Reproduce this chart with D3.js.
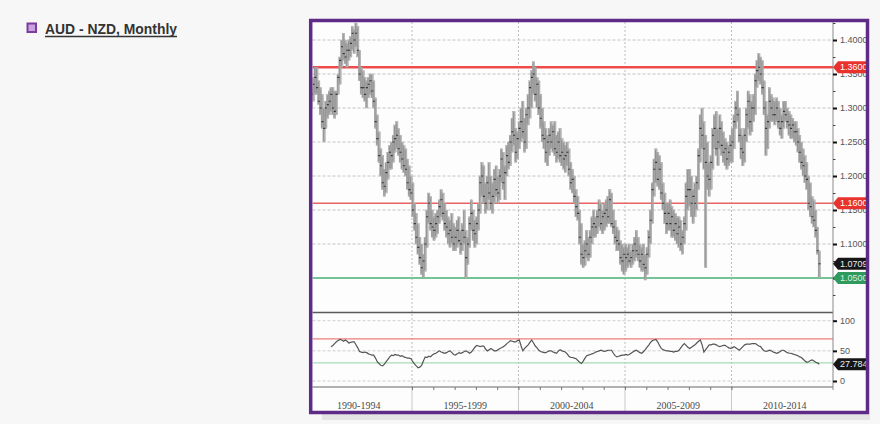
<!DOCTYPE html>
<html><head><meta charset="utf-8">
<script src="https://cdn.jsdelivr.net/npm/d3@7/dist/d3.min.js"></script>
<style>body{margin:0;background:#f7f7f7;}svg{display:block}</style>
</head><body><svg id="c" width="880" height="424"></svg>
<script>
// ---------------- DATA ----------------
const title = "AUD - NZD, Monthly";
const startYear = 1990, startMonth = 3; // first bar: April 1990
const high = [
 1.33,1.345,1.36,1.36,1.34,1.33,1.32,1.30,1.31,
 1.32,1.325,1.33,1.33,1.325,1.325,1.35,1.375,1.40,1.41,1.40,1.395,
 1.40,1.405,1.42,1.415,1.425,1.42,1.385,1.36,1.355,1.345,1.34,1.345,
 1.35,1.35,1.34,1.315,1.29,1.265,1.24,1.23,1.21,1.22,1.235,1.245,
 1.25,1.26,1.275,1.28,1.27,1.26,1.25,1.245,1.24,1.225,1.215,1.20,
 1.19,1.16,1.145,1.13,1.11,1.10,1.085,1.11,1.15,1.175,1.17,1.15,
 1.14,1.145,1.15,1.165,1.18,1.175,1.16,1.15,1.14,1.135,1.145,1.13,
 1.125,1.135,1.14,1.12,1.13,1.15,1.12,1.11,1.14,1.165,1.15,1.135,
 1.14,1.16,1.20,1.22,1.215,1.19,1.20,1.22,1.20,1.19,1.21,1.215,
 1.20,1.21,1.24,1.235,1.215,1.245,1.25,1.26,1.285,1.295,1.27,1.265,
 1.28,1.30,1.31,1.285,1.30,1.32,1.34,1.355,1.368,1.36,1.345,1.34,
 1.32,1.30,1.28,1.27,1.26,1.27,1.28,1.275,1.28,1.26,1.265,1.27,
 1.255,1.25,1.245,1.25,1.24,1.22,1.21,1.20,1.18,1.17,1.15,1.13,
 1.10,1.105,1.12,1.11,1.12,1.14,1.15,1.14,1.15,1.165,1.16,1.15,
 1.16,1.165,1.17,1.18,1.175,1.15,1.135,1.125,1.12,1.105,1.10,1.095,
 1.10,1.095,1.10,1.09,1.10,1.11,1.12,1.11,1.10,1.095,1.10,1.085,
 1.095,1.12,1.15,1.19,1.225,1.24,1.235,1.23,1.22,1.19,1.175,1.16,
 1.16,1.165,1.155,1.15,1.145,1.14,1.14,1.135,1.12,1.14,1.19,1.21,
 1.21,1.20,1.18,1.19,1.20,1.24,1.29,1.30,1.28,1.26,1.25,1.22,
 1.23,1.27,1.29,1.295,1.27,1.29,1.28,1.265,1.255,1.25,1.245,1.26,
 1.27,1.29,1.31,1.325,1.30,1.27,1.26,1.27,1.30,1.325,1.32,1.31,
 1.32,1.35,1.37,1.38,1.375,1.37,1.34,1.31,1.29,1.33,1.32,1.315,
 1.31,1.315,1.31,1.30,1.29,1.31,1.31,1.30,1.295,1.29,1.285,1.28,
 1.28,1.27,1.26,1.25,1.24,1.23,1.22,1.20,1.19,1.17,1.165,1.15,
 1.125,1.09
];
const low = [
 1.30,1.31,1.32,1.32,1.305,1.29,1.27,1.25,1.27,
 1.285,1.29,1.295,1.29,1.285,1.29,1.32,1.335,1.36,1.37,1.365,1.36,
 1.37,1.375,1.385,1.38,1.39,1.375,1.34,1.32,1.315,1.31,1.30,1.315,
 1.32,1.315,1.30,1.27,1.245,1.22,1.20,1.18,1.17,1.175,1.195,1.21,
 1.21,1.22,1.235,1.24,1.23,1.22,1.21,1.205,1.20,1.18,1.17,1.165,
 1.14,1.12,1.10,1.085,1.07,1.055,1.05,1.06,1.095,1.13,1.12,1.11,
 1.105,1.11,1.115,1.13,1.14,1.135,1.12,1.11,1.10,1.095,1.10,1.09,
 1.09,1.095,1.10,1.085,1.09,1.10,1.05,1.07,1.095,1.12,1.105,1.095,
 1.10,1.12,1.145,1.17,1.16,1.145,1.15,1.165,1.15,1.145,1.16,1.17,
 1.16,1.165,1.19,1.18,1.165,1.20,1.21,1.215,1.235,1.245,1.22,1.225,
 1.24,1.25,1.255,1.235,1.24,1.275,1.285,1.30,1.32,1.31,1.30,1.29,
 1.27,1.25,1.24,1.22,1.215,1.23,1.24,1.235,1.23,1.22,1.225,1.22,
 1.215,1.21,1.205,1.215,1.20,1.18,1.175,1.16,1.14,1.135,1.10,1.07,
 1.065,1.068,1.08,1.075,1.08,1.10,1.11,1.11,1.115,1.125,1.12,1.115,
 1.12,1.125,1.13,1.13,1.125,1.115,1.10,1.09,1.09,1.07,1.06,1.055,
 1.06,1.065,1.07,1.065,1.07,1.075,1.08,1.075,1.065,1.06,1.06,1.047,
 1.055,1.08,1.10,1.13,1.17,1.19,1.185,1.18,1.165,1.15,1.13,1.115,
 1.12,1.12,1.11,1.11,1.105,1.10,1.095,1.09,1.085,1.10,1.12,1.15,
 1.155,1.14,1.13,1.14,1.15,1.18,1.22,1.24,1.21,1.065,1.18,1.17,
 1.18,1.21,1.24,1.23,1.215,1.24,1.23,1.22,1.215,1.21,1.215,1.22,
 1.22,1.24,1.27,1.28,1.25,1.225,1.215,1.22,1.25,1.27,1.26,1.265,
 1.28,1.29,1.33,1.34,1.335,1.32,1.29,1.23,1.24,1.27,1.28,1.28,
 1.275,1.28,1.27,1.26,1.255,1.27,1.28,1.27,1.26,1.255,1.255,1.25,
 1.245,1.235,1.22,1.21,1.20,1.19,1.18,1.15,1.14,1.13,1.125,1.11,
 1.085,1.05
];
const close = [
 1.32,1.335,1.345,1.33,1.31,1.30,1.28,1.27,1.30,
 1.305,1.31,1.32,1.30,1.295,1.32,1.345,1.37,1.39,1.38,1.375,1.385,
 1.385,1.395,1.41,1.40,1.41,1.385,1.35,1.33,1.33,1.32,1.33,1.335,
 1.34,1.325,1.31,1.28,1.255,1.23,1.215,1.19,1.185,1.205,1.22,1.235,
 1.23,1.25,1.255,1.26,1.24,1.235,1.225,1.215,1.21,1.19,1.18,1.175,
 1.15,1.13,1.11,1.095,1.08,1.065,1.075,1.10,1.14,1.16,1.13,1.125,
 1.12,1.13,1.14,1.155,1.165,1.145,1.13,1.125,1.115,1.12,1.11,1.10,
 1.11,1.12,1.105,1.10,1.12,1.11,1.08,1.10,1.13,1.145,1.12,1.115,
 1.13,1.15,1.19,1.20,1.17,1.16,1.19,1.175,1.16,1.17,1.195,1.18,
 1.175,1.20,1.225,1.19,1.205,1.23,1.22,1.25,1.265,1.26,1.235,1.255,
 1.27,1.28,1.265,1.25,1.29,1.30,1.33,1.345,1.35,1.32,1.335,1.30,
 1.285,1.26,1.255,1.235,1.25,1.26,1.25,1.265,1.24,1.235,1.25,1.23,
 1.235,1.225,1.23,1.235,1.21,1.19,1.195,1.17,1.155,1.145,1.11,1.085,
 1.08,1.09,1.10,1.085,1.11,1.125,1.13,1.125,1.14,1.15,1.13,1.14,
 1.145,1.15,1.14,1.165,1.13,1.125,1.11,1.105,1.10,1.08,1.075,1.085,
 1.08,1.085,1.075,1.08,1.09,1.10,1.09,1.085,1.075,1.085,1.07,1.065,
 1.085,1.11,1.135,1.18,1.21,1.22,1.195,1.21,1.175,1.16,1.145,1.13,
 1.145,1.13,1.14,1.12,1.13,1.115,1.125,1.10,1.11,1.13,1.17,1.18,
 1.18,1.16,1.17,1.16,1.19,1.23,1.27,1.26,1.24,1.22,1.20,1.195,
 1.22,1.26,1.27,1.24,1.25,1.27,1.245,1.235,1.24,1.225,1.235,1.245,
 1.25,1.28,1.30,1.29,1.26,1.24,1.235,1.26,1.29,1.31,1.28,1.30,
 1.30,1.34,1.355,1.36,1.35,1.33,1.30,1.27,1.28,1.31,1.30,1.29,
 1.29,1.30,1.28,1.27,1.28,1.295,1.29,1.28,1.275,1.27,1.275,1.265,
 1.265,1.25,1.235,1.22,1.215,1.20,1.195,1.16,1.155,1.14,1.135,1.12,
 1.09,1.0709
];
const rsiStart = 11; // index of first RSI reading in the monthly series
const rsi = [
 57,59,62,65,67,69,68,66,68,66,63,64,
 65,65,60,55,49,48,47,48,47,45,44,43,
 43,38,32,29,26,25,28,32,36,40,43,42,
 44,43,43,41,42,40,39,38,38,37,32,28,
 25,22,23,26,33,40,39,41,40,43,45,46,
 48,50,48,47,46,47,49,50,47,44,43,45,
 47,46,47,49,50,48,46,48,52,56,59,58,
 57,58,58,53,50,52,54,52,50,50,52,54,
 55,57,59,62,64,67,66,65,65,67,68,58,
 50,54,57,60,64,68,63,58,55,51,49,48,
 47,47,49,50,50,48,47,46,50,52,50,49,
 48,45,41,39,39,38,37,34,31,29,33,38,
 42,43,44,45,46,48,49,50,51,50,49,50,
 51,51,51,46,42,40,41,42,43,43,44,43,
 44,46,48,50,51,49,47,46,49,52,56,60,
 64,67,68,69,65,59,54,52,51,50,50,49,
 49,48,49,49,51,55,59,62,59,56,54,56,
 58,60,63,66,68,60,48,52,56,60,60,61,
 61,60,58,57,58,59,59,57,55,54,55,57,
 55,53,51,54,57,60,61,61,61,62,62,62,
 60,58,57,53,50,49,50,51,50,48,47,46,
 47,49,51,51,49,47,46,46,45,44,43,42,
 40,39,36,33,31,32,34,35,33,31,30,27.784
];
const priceTicks = [1.40,1.35,1.30,1.25,1.20,1.15,1.10,1.05];
const priceMinorTicks = [1.425,1.375,1.325,1.275,1.225,1.175,1.125,1.075,1.025];
const rsiTicks = [100,50,0];
const resistance = [1.36,1.16];
const support = [1.05];
const lastPrice = 1.0709;
const rsiLevels = {overbought:70, oversold:30};
const lastRsi = 27.784;
const periodLabels = ["1990-1994","1995-1999","2000-2004","2005-2009","2010-2014"];
const periodStarts = [1990,1995,2000,2005,2010,2015];

// ---------------- LAYOUT ----------------
const svg = d3.select("#c");
const plotL = 312.5, plotR = 833, mainT = 22, mainB = 312, rsiT = 313, rsiB = 387;
const n = Math.min(high.length, low.length, close.length);
const months = d3.range(n).map(i => new Date(startYear, startMonth + i, 15));

const x = d3.scaleTime().domain([new Date(1995,0,1), new Date(2010,0,1)]).range([412, 731.5]);
const y = d3.scaleLinear().domain([1.0, 1.4]).range([312, 40]);
const yr = d3.scaleLinear().domain([0,100]).range([381, 320.7]);

svg.append("rect").attr("width",880).attr("height",424).attr("fill","#f7f7f7");
svg.append("rect").attr("x",322).attr("y",414).attr("width",548).attr("height",6).attr("fill","#e4e4e4");
svg.append("rect").attr("x",310).attr("y",20).attr("width",557).attr("height",392).attr("fill","#fdfdfd");

const defs = svg.append("defs");
defs.append("clipPath").attr("id","mainClip").append("rect")
  .attr("x",plotL).attr("y",mainT).attr("width",plotR-plotL).attr("height",mainB-mainT);
defs.append("clipPath").attr("id","rsiClip").append("rect")
  .attr("x",plotL).attr("y",rsiT).attr("width",plotR-plotL).attr("height",rsiB-rsiT);

// grid
const grid = svg.append("g");
grid.selectAll(".hg").data(priceTicks).join("line")
  .attr("x1",plotL).attr("x2",plotR).attr("y1",d=>y(d)).attr("y2",d=>y(d))
  .attr("stroke","#c4c4c4").attr("stroke-width",1).attr("stroke-dasharray","3,2");
grid.selectAll(".rg").data(rsiTicks).join("line")
  .attr("x1",plotL).attr("x2",plotR).attr("y1",d=>yr(d)).attr("y2",d=>yr(d))
  .attr("stroke","#cfcfcf").attr("stroke-width",1).attr("stroke-dasharray","3,2");
const inner = periodStarts.slice(1,-1);
grid.selectAll(".vg").data(inner).join("line")
  .attr("x1",d=>x(new Date(d,0,1))).attr("x2",d=>x(new Date(d,0,1)))
  .attr("y1",mainT).attr("y2",rsiB)
  .attr("stroke","#bdbdbd").attr("stroke-width",1).attr("stroke-dasharray","2,2");
grid.selectAll(".vs").data(inner).join("line")
  .attr("x1",d=>x(new Date(d,0,1))).attr("x2",d=>x(new Date(d,0,1)))
  .attr("y1",rsiB).attr("y2",411)
  .attr("stroke","#c8c8c8").attr("stroke-width",1);

// level lines
const lv = svg.append("g").attr("clip-path","url(#mainClip)");
lv.selectAll(".res").data(resistance).join("line")
  .attr("x1",plotL).attr("x2",plotR).attr("y1",d=>y(d)).attr("y2",d=>y(d))
  .attr("stroke",(d,i)=> i===0 ? "#ee4b4b" : "#ea6464").attr("stroke-width",(d,i)=> i===0 ? 2.4 : 1.5);
lv.selectAll(".sup").data(support).join("line")
  .attr("x1",plotL).attr("x2",plotR).attr("y1",d=>y(d)).attr("y2",d=>y(d))
  .attr("stroke","#74c495").attr("stroke-width",2.2);

// bars
const bars = svg.append("g").attr("clip-path","url(#mainClip)");
const idx = d3.range(n);
bars.selectAll(".hl").data(idx).join("rect")
  .attr("x",i=>x(months[i])-1.2).attr("width",2.4)
  .attr("y",i=>y(high[i])).attr("height",i=>Math.max(1,y(low[i])-y(high[i])))
  .attr("fill","#b9b9b9").attr("stroke","#999").attr("stroke-width",0.4);
bars.selectAll(".hc").data(idx).join("line")
  .attr("x1",i=>x(months[i])-0.4).attr("x2",i=>x(months[i])-0.4)
  .attr("y1",i=>y(high[i])+1).attr("y2",i=>y(low[i])-1)
  .attr("stroke","#7a7a7a").attr("stroke-width",0.6);
bars.selectAll(".cl").data(idx).join("line")
  .attr("x1",i=>x(months[i])-0.8).attr("x2",i=>x(months[i])+1.2)
  .attr("y1",i=>y(close[i])).attr("y2",i=>y(close[i]))
  .attr("stroke","#333").attr("stroke-width",1.1);

// rsi levels and line
const rg = svg.append("g").attr("clip-path","url(#rsiClip)");
rg.append("line").attr("x1",plotL).attr("x2",plotR)
  .attr("y1",yr(rsiLevels.overbought)).attr("y2",yr(rsiLevels.overbought))
  .attr("stroke","#f07c7c").attr("stroke-width",1.2);
rg.append("line").attr("x1",plotL).attr("x2",plotR)
  .attr("y1",yr(rsiLevels.oversold)).attr("y2",yr(rsiLevels.oversold))
  .attr("stroke","#a6dbb5").attr("stroke-width",1.2);
const line = d3.line().x((d,i)=>x(months[rsiStart+i])).y(d=>yr(d));
rg.append("path").datum(rsi).attr("d",line).attr("fill","none")
  .attr("stroke","#555").attr("stroke-width",1.2);

// panel separator and axis lines
svg.append("line").attr("x1",plotL).attr("x2",plotR).attr("y1",312.5).attr("y2",312.5)
  .attr("stroke","#5a5a5a").attr("stroke-width",1.5);
svg.append("line").attr("x1",plotL).attr("x2",plotR).attr("y1",rsiB).attr("y2",rsiB)
  .attr("stroke","#666").attr("stroke-width",1.2);
svg.append("line").attr("x1",plotR).attr("x2",plotR).attr("y1",mainT).attr("y2",rsiB+3)
  .attr("stroke","#8a8a8a").attr("stroke-width",1);

// bottom year ticks
const xAxis = d3.axisBottom(x).ticks(d3.timeYear.every(1)).tickSize(3).tickFormat("");
const xa = svg.append("g").attr("transform",`translate(0,${rsiB})`).call(xAxis);
xa.select(".domain").remove();
xa.selectAll(".tick").filter(d=>{const p=x(d);return p<plotL||p>plotR;}).remove();
xa.selectAll(".tick line").attr("stroke","#777");

// period labels
svg.selectAll(".pl").data(periodLabels).join("text")
  .attr("x",(d,i)=> (x(new Date(periodStarts[i],0,1))+x(new Date(periodStarts[i+1],0,1)))/2)
  .attr("y",409).attr("text-anchor","middle")
  .attr("font-family","Liberation Serif, serif").attr("font-size",10).attr("fill","#4a4a4a")
  .text(d=>d);

// right axes
const fmt = d3.format(".4f");
const ya = svg.append("g").attr("transform",`translate(${plotR},0)`)
  .call(d3.axisRight(y).tickValues(priceTicks).tickFormat(fmt).tickSize(4).tickPadding(3));
ya.select(".domain").remove();
ya.selectAll(".tick line").attr("stroke","#111").attr("stroke-width",2);
ya.selectAll(".tick text").attr("font-family","Liberation Sans, Arial, sans-serif").attr("font-size",9).attr("fill","#555");
const ym = svg.append("g").attr("transform",`translate(${plotR},0)`)
  .call(d3.axisRight(y).tickValues(priceMinorTicks).tickFormat("").tickSize(2.5));
ym.select(".domain").remove();
ym.selectAll(".tick line").attr("stroke","#444").attr("stroke-width",1);
ym.selectAll(".tick").filter(d=>y(d)<mainT||y(d)>mainB).remove();

const ra = svg.append("g").attr("transform",`translate(${plotR},0)`)
  .call(d3.axisRight(yr).tickValues(rsiTicks).tickFormat(d3.format("d")).tickSize(4).tickPadding(3));
ra.select(".domain").remove();
ra.selectAll(".tick line").attr("stroke","#111").attr("stroke-width",2);
ra.selectAll(".tick text").attr("font-family","Liberation Sans, Arial, sans-serif").attr("font-size",9).attr("fill","#555");

// value tags
function tag(yc, label, fill, textFill){
  const g = svg.append("g");
  g.append("path").attr("d",`M${plotR},${yc} L${plotR+5},${yc-6} L869,${yc-6} L869,${yc+6} L${plotR+5},${yc+6} Z`)
    .attr("fill",fill);
  g.append("text").attr("x",plotR+7).attr("y",yc+3.2)
    .attr("font-family","Liberation Sans, Arial, sans-serif").attr("font-size",9)
    .attr("fill",textFill).text(label);
}
resistance.forEach(v=>tag(y(v), fmt(v), "#e8322c", "#fff"));
tag(y(lastPrice), fmt(lastPrice), "#161616", "#eee");
support.forEach(v=>tag(y(v), fmt(v), "#2f9a5c", "#d8f0e0"));
tag(yr(lastRsi), d3.format(".3f")(lastRsi), "#161616", "#eee");

// frame
svg.append("rect").attr("x",310.7).attr("y",20.5).attr("width",556.8).attr("height",392)
  .attr("fill","none").attr("stroke","#5e2b86").attr("stroke-width",3.5);

// title
svg.append("rect").attr("x",27.5).attr("y",23.5).attr("width",8.5).attr("height",8.5)
  .attr("fill","#c9a3de").attr("stroke","#7b3c9e").attr("stroke-width",2);
svg.append("text").attr("x",45).attr("y",34).attr("font-family","Liberation Sans, Arial, sans-serif")
  .attr("font-weight","bold").attr("font-size",14).attr("fill","#333")
  .attr("textLength",132).attr("lengthAdjust","spacingAndGlyphs").text(title);
svg.append("line").attr("x1",45).attr("x2",177).attr("y1",36.5).attr("y2",36.5)
  .attr("stroke","#333").attr("stroke-width",1.3);
</script>
</body></html>
